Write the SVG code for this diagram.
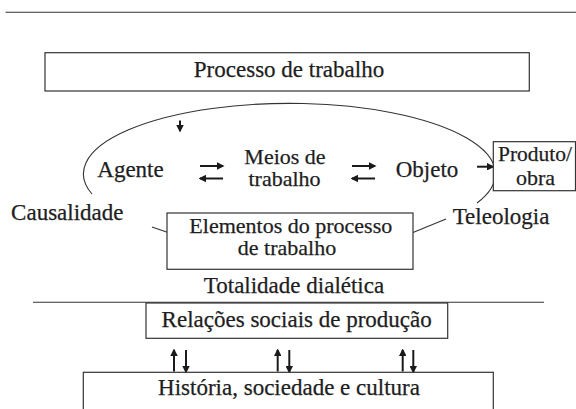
<svg xmlns="http://www.w3.org/2000/svg" width="576" height="409" viewBox="0 0 576 409">
<defs>
<marker id="ah" viewBox="0 0 10 10" refX="8" refY="5" markerWidth="7.5" markerHeight="7.5" markerUnits="userSpaceOnUse" orient="auto"><path d="M0,0 L10,5 L0,10 z" fill="#1a1a1a"/></marker>
</defs>
<style>
.box{fill:#fff;stroke:#333;stroke-width:1.2}
.ln{fill:none;stroke:#333;stroke-width:1.1}
.ar{fill:none;stroke:#1a1a1a;stroke-width:2;marker-end:url(#ah)}
text{font-family:"Liberation Serif","Times New Roman",Tinos,serif;font-size:23px;fill:#1e1e1e;stroke:#1e1e1e;stroke-width:0.25;text-anchor:middle}
.two{font-size:22px}
</style>
<rect width="576" height="409" fill="#fff"/>
<g id="rules">
<path class="ln" d="M5.5 12.3 H576"/>
<path class="ln" d="M33 302.3 H544"/>
</g>
<g id="connectors">
<path class="ln" d="M92 194 A206 70.5 0 1 1 477 203"/>
<path class="ar" d="M180 120.5 V131"/>
<path class="ar" d="M200 166 H223"/>
<path class="ar" d="M223 178.5 H200"/>
<path class="ar" d="M352 166 H375"/>
<path class="ar" d="M375 178.5 H352"/>
<path class="ar" d="M477 166.7 H493"/>
<path class="ln" d="M152 227 L168 232.5"/>
<path class="ln" d="M413 232.5 L446 219"/>
<path class="ar" d="M174 371.5 V350"/>
<path class="ar" d="M186 350 V372"/>
<path class="ar" d="M277.7 371.5 V350"/>
<path class="ar" d="M289.3 350 V372"/>
<path class="ar" d="M402.7 371.5 V350"/>
<path class="ar" d="M413.3 350 V372"/>
</g>
<g id="processo"><rect class="box" x="45" y="52.7" width="484.3" height="38.3"/><text x="289" y="76.7">Processo de trabalho</text></g>
<g id="agente"><text x="130.5" y="177">Agente</text></g>
<g id="meios"><text class="two" x="285" y="164">Meios de</text><text class="two" x="284.5" y="185.5">trabalho</text></g>
<g id="objeto"><text x="427" y="177">Objeto</text></g>
<g id="produto"><rect class="box" x="493.3" y="141.7" width="82.2" height="49"/><text x="535" y="161" style="font-size:21.5px">Produto/</text><text x="535.5" y="185" style="font-size:22px">obra</text></g>
<g id="causalidade"><text x="67.3" y="220">Causalidade</text></g>
<g id="teleologia"><text x="501" y="223.5">Teleologia</text></g>
<g id="elementos"><rect class="box" x="167" y="213" width="246" height="56.3"/><text class="two" x="290.8" y="233.3">Elementos do processo</text><text class="two" x="287" y="255">de trabalho</text></g>
<g id="totalidade"><text x="294" y="293">Totalidade dialética</text></g>
<g id="relacoes"><rect class="box" x="146" y="303" width="301.7" height="35.3"/><text x="296.7" y="326.5">Relações sociais de produção</text></g>
<g id="historia"><rect class="box" x="83.3" y="372.3" width="410" height="45"/><text x="289" y="395">História, sociedade e cultura</text></g>
</svg>
